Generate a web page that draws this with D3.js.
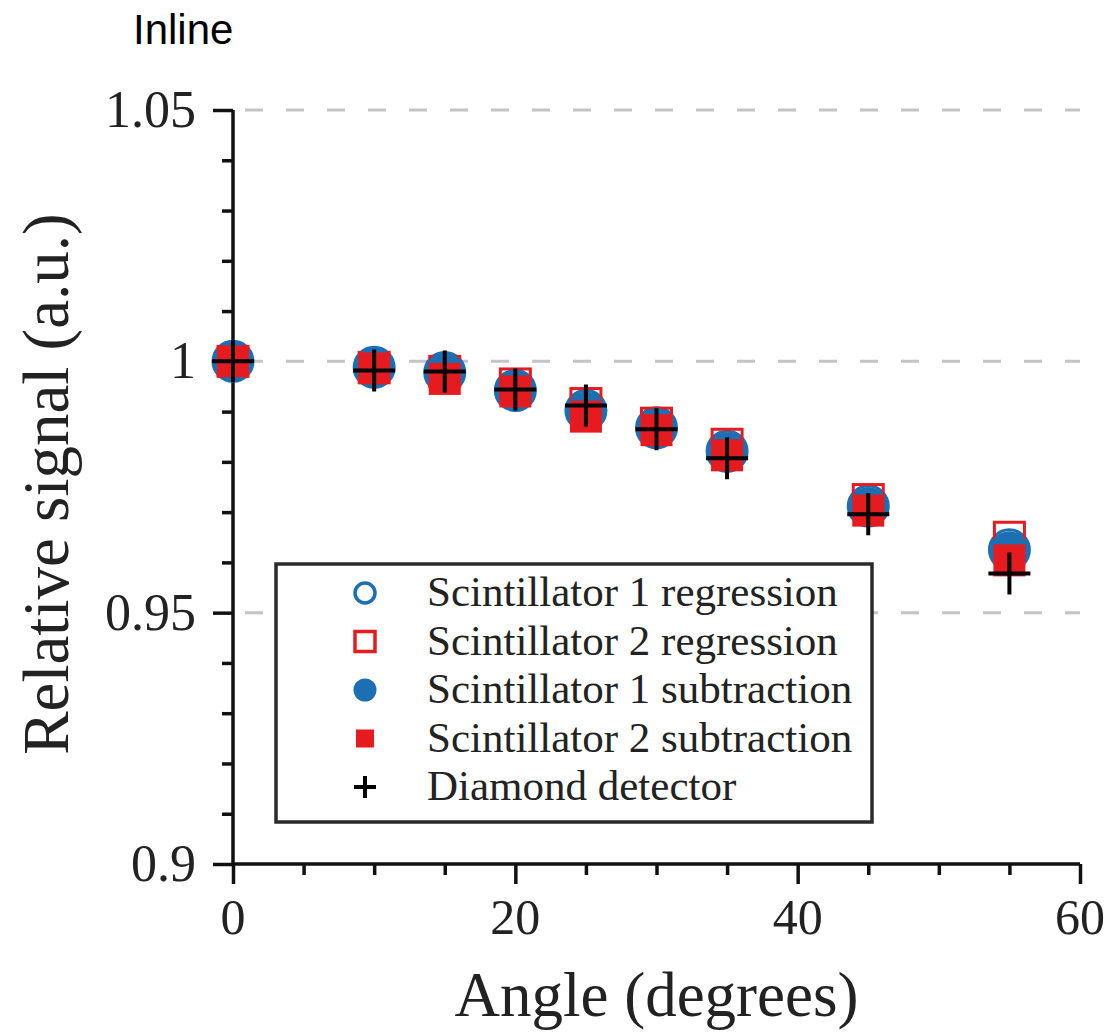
<!DOCTYPE html>
<html>
<head>
<meta charset="utf-8">
<script src="https://cdn.jsdelivr.net/npm/d3@7"></script>
<style>
  html, body { margin: 0; padding: 0; background: #fff; }
  svg { display: block; }
</style>
</head>
<body>
<svg id="chart" width="1114" height="1036"></svg>
<script>
// ---- data ----
const angles = [0, 10, 15, 20, 25, 30, 35, 45, 55];
const scint1Regression  = [1.0000, 0.9988, 0.9978, 0.9942, 0.9902, 0.9868, 0.9821, 0.9712, 0.9625];
const scint2Regression  = [1.0000, 0.9988, 0.9980, 0.9955, 0.9916, 0.9877, 0.9835, 0.9725, 0.9650];
const scint1Subtraction = [1.0000, 0.9989, 0.9978, 0.9944, 0.9900, 0.9867, 0.9819, 0.9710, 0.9622];
const scint2Subtraction = [1.0000, 0.9986, 0.9965, 0.9940, 0.9890, 0.9863, 0.9813, 0.9703, 0.9604];
const diamondDetector   = [1.0000, 0.9982, 0.9980, 0.9944, 0.9912, 0.9865, 0.9807, 0.9696, 0.9578];
const xTicks = [0, 20, 40, 60];
const yTicks = [0.9, 0.95, 1, 1.05];
const yTickLabels = ["0.9", "0.95", "1", "1.05"];
const legendLabels = ["Scintillator 1 regression", "Scintillator 2 regression",
                      "Scintillator 1 subtraction", "Scintillator 2 subtraction", "Diamond detector"];
const title = "Inline";
const xTitle = "Angle (degrees)";
const yTitle = "Relative signal (a.u.)";

// ---- layout ----
const BLUE = "#1c6fb2", RED = "#e51b20";
const plot = { left: 233, right: 1080, top: 110, bottom: 864 };
const svg = d3.select("#chart");
const x = d3.scaleLinear().domain([0, 60]).range([plot.left, plot.right]);
const y = d3.scaleLinear().domain([0.9, 1.05]).range([plot.bottom, plot.top]);
const serif = "'Liberation Serif', 'Times New Roman', serif";

// title
svg.append("text").attr("x", 133).attr("y", 44)
  .attr("font-family", "'Liberation Sans', Arial, sans-serif").attr("font-size", 42)
  .attr("fill", "#000").text(title);

// grid (dashed, at major y ticks)
svg.append("g").selectAll("line").data([0.95, 1, 1.05]).join("line")
  .attr("x1", plot.left).attr("x2", plot.right)
  .attr("y1", d => y(d)).attr("y2", d => y(d))
  .attr("stroke", "#c4c4c4").attr("stroke-width", 3)
  .attr("stroke-dasharray", "18,23").attr("stroke-dashoffset", -12);

// axes
const xAxis = d3.axisBottom(x).tickValues(d3.range(0, 61, 5)).tickSize(11).tickFormat("");
const gx = svg.append("g").attr("transform", `translate(0,${plot.bottom})`).call(xAxis);
gx.selectAll(".tick line").filter(d => xTicks.includes(d)).attr("y2", 20);
const yAxis = d3.axisLeft(y).tickValues(d3.range(0, 16).map(i => +(0.9 + i * 0.01).toFixed(2))).tickSize(11).tickFormat("");
const gy = svg.append("g").attr("transform", `translate(${plot.left},0)`).call(yAxis);
gy.selectAll(".tick line").filter(d => yTicks.some(t => Math.abs(t - d) < 1e-9)).attr("x2", -20);
[gx, gy].forEach(g => {
  g.select(".domain").attr("stroke", "#111").attr("stroke-width", 3.5);
  g.selectAll(".tick line").attr("stroke", "#111").attr("stroke-width", 3.5);
});
gy.select(".domain").attr("d", `M0,${plot.top}V${plot.bottom}`);
gx.select(".domain").attr("d", `M${plot.left},0H${plot.right}`);

// tick labels
svg.append("g").selectAll("text").data(xTicks).join("text")
  .attr("x", d => x(d)).attr("y", 934).attr("text-anchor", "middle")
  .attr("font-family", serif).attr("font-size", 50).attr("fill", "#222").text(d => d);
svg.append("g").selectAll("text").data(yTicks).join("text")
  .attr("x", 196).attr("y", d => y(d) + 17).attr("text-anchor", "end")
  .attr("font-family", serif).attr("font-size", 52).attr("fill", "#222")
  .text((d, i) => yTickLabels[i]);

// axis titles
svg.append("text").attr("x", (plot.left + plot.right) / 2).attr("y", 1016).attr("text-anchor", "middle")
  .attr("font-family", serif).attr("font-size", 63).attr("fill", "#222").text(xTitle);
svg.append("text").attr("transform", `translate(68,484) rotate(-90)`)
  .attr("text-anchor", "middle")
  .attr("font-family", serif).attr("font-size", 65).attr("fill", "#222").text(yTitle);

// ---- markers ----
const pts = arr => angles.map((a, i) => ({ a, v: arr[i] }));
const marks = svg.append("g");
const R = 20, S = 30, FS = 32, C = 21;
marks.selectAll(".oc").data(pts(scint1Regression)).join("circle")
  .attr("cx", d => x(d.a)).attr("cy", d => y(d.v)).attr("r", R)
  .attr("fill", "none").attr("stroke", BLUE).attr("stroke-width", 3);
marks.selectAll(".os").data(pts(scint2Regression)).join("rect")
  .attr("x", d => x(d.a) - S / 2).attr("y", d => y(d.v) - S / 2).attr("width", S).attr("height", S)
  .attr("fill", "none").attr("stroke", RED).attr("stroke-width", 3);
marks.selectAll(".fc").data(pts(scint1Subtraction)).join("circle")
  .attr("cx", d => x(d.a)).attr("cy", d => y(d.v)).attr("r", R)
  .attr("fill", BLUE);
marks.selectAll(".fs").data(pts(scint2Subtraction)).join("rect")
  .attr("x", d => x(d.a) - FS / 2).attr("y", d => y(d.v) - FS / 2).attr("width", FS).attr("height", FS)
  .attr("fill", RED);
marks.selectAll(".cr").data(pts(diamondDetector)).join("path")
  .attr("d", d => `M${x(d.a) - C},${y(d.v)}H${x(d.a) + C}M${x(d.a)},${y(d.v) - C}V${y(d.v) + C}`)
  .attr("stroke", "#000").attr("stroke-width", 4).attr("fill", "none");

// ---- legend ----
const lg = svg.append("g");
const box = { x: 276, y: 564, w: 596, h: 258 };
lg.append("rect").attr("x", box.x).attr("y", box.y).attr("width", box.w).attr("height", box.h)
  .attr("fill", "#fff").attr("stroke", "#2a2a2a").attr("stroke-width", 3.5);
const rowY = i => 593 + i * 48.5;
const mx = 365;
lg.append("circle").attr("cx", mx).attr("cy", rowY(0)).attr("r", 10)
  .attr("fill", "none").attr("stroke", BLUE).attr("stroke-width", 3.5);
lg.append("rect").attr("x", mx - 10).attr("y", rowY(1) - 10).attr("width", 20).attr("height", 20)
  .attr("fill", "none").attr("stroke", RED).attr("stroke-width", 3.5);
lg.append("circle").attr("cx", mx).attr("cy", rowY(2)).attr("r", 11.5).attr("fill", BLUE);
lg.append("rect").attr("x", mx - 9).attr("y", rowY(3) - 9).attr("width", 18).attr("height", 18).attr("fill", RED);
lg.append("path").attr("d", `M${mx - 11},${rowY(4)}H${mx + 11}M${mx},${rowY(4) - 11}V${rowY(4) + 11}`)
  .attr("stroke", "#000").attr("stroke-width", 4);
lg.selectAll("text").data(legendLabels).join("text")
  .attr("x", 427).attr("y", (d, i) => rowY(i) + 13)
  .attr("font-family", serif).attr("font-size", 43).attr("fill", "#222").text(d => d);
</script>
</body>
</html>
